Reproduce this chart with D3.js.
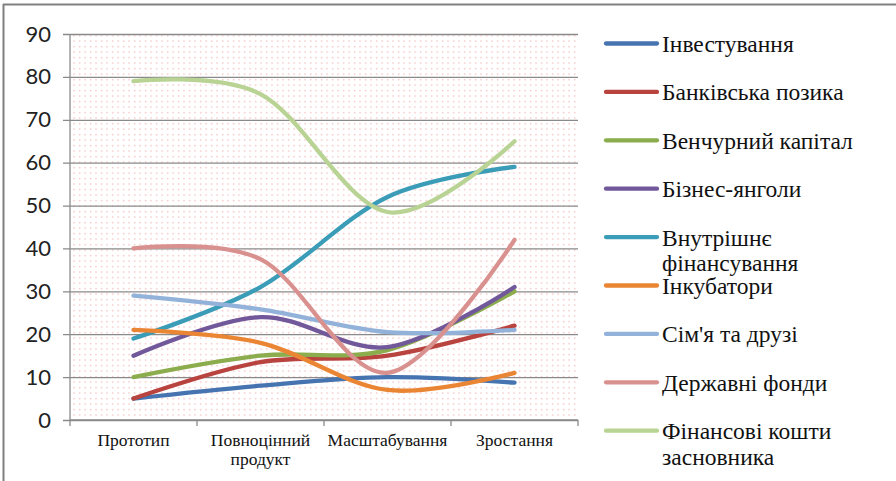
<!DOCTYPE html>
<html>
<head>
<meta charset="utf-8">
<script src="https://cdn.jsdelivr.net/npm/d3@7/dist/d3.min.js"></script>
<style>
  html, body { margin: 0; padding: 0; background: #fff; }
  svg { display: block; }
  .serif { font-family: "Liberation Serif", "DejaVu Serif", "Noto Serif", "Times New Roman", Times, serif; }
</style>
</head>
<body>
<svg id="chart" width="896" height="481"></svg>
<script>
const categories = ["Прототип", "Повноцінний продукт", "Масштабування", "Зростання"];
const seriesNames = ["Інвестування", "Банківська позика", "Венчурний капітал", "Бізнес-янголи",
  "Внутрішнє фінансування", "Інкубатори", "Сім'я та друзі", "Державні фонди", "Фінансові кошти засновника"];
const investing   = [5, 8, 10, 8.7];
const bankLoan    = [5, 13.5, 15, 22];
const venture     = [10, 15, 16.3, 30];
const angels      = [15, 24, 17, 31];
const internal    = [19, 31, 52, 59];
const incubators  = [21, 18, 7, 11];
const family      = [29, 25.8, 20.5, 21];
const stateFunds  = [40, 37.5, 11, 42];
const founders    = [79, 76, 48.5, 65];
const seriesValues = [investing, bankLoan, venture, angels, internal, incubators, family, stateFunds, founders];
const yTicks = [0, 10, 20, 30, 40, 50, 60, 70, 80, 90];
const colors = ["#4674b0", "#b8433f", "#8cad4d", "#71589a", "#3b9cb8", "#ea8533", "#93b2d9", "#d8918f", "#b8d393"];
const legendLines = [["Інвестування"], ["Банківська позика"], ["Венчурний капітал"], ["Бізнес-янголи"],
  ["Внутрішнє", "фінансування"], ["Інкубатори"], ["Сім'я та друзі"], ["Державні фонди"], ["Фінансові кошти", "засновника"]];
const xLabelLines = [["Прототип"], ["Повноцінний", "продукт"], ["Масштабування"], ["Зростання"]];

const svg = d3.select("#chart");
const L = 70, R = 578, T = 34, B = 420;

const x = d3.scaleBand().domain(categories).range([L, R]).padding(0);
const y = d3.scaleLinear().domain([0, 90]).range([B, T]);

// frame
svg.append("line").attr("x1", 3.5).attr("x2", 3.5).attr("y1", 4).attr("y2", 481)
  .attr("stroke", "#808080").attr("stroke-width", 2);
svg.append("line").attr("x1", 3).attr("x2", 896).attr("y1", 4.5).attr("y2", 4.5)
  .attr("stroke", "#808080").attr("stroke-width", 2);

// dotted background pattern
const defs = svg.append("defs");
const pat = defs.append("pattern").attr("id", "dots").attr("patternUnits", "userSpaceOnUse")
  .attr("width", 5.5).attr("height", 5.5);
pat.append("rect").attr("width", 5.5).attr("height", 5.5).attr("fill", "#fff");
pat.append("rect").attr("x", 2).attr("y", 2).attr("width", 1.2).attr("height", 1.2).attr("fill", "#f0a8a8");
svg.append("rect").attr("x", L).attr("y", T).attr("width", R - L).attr("height", B - T).attr("fill", "url(#dots)");

// gridlines + y axis
const yAxis = d3.axisLeft(y).tickValues(yTicks).tickSize(-(R - L + 7)).tickPadding(12).tickFormat(d3.format("d"));
const gy = svg.append("g").attr("transform", `translate(${L - 7},0)`).call(yAxis);
gy.select(".domain").remove();
gy.selectAll(".tick line").attr("stroke", "#8a8a8a").attr("stroke-width", 1.3);
gy.selectAll(".tick text").attr("font-family", "Lato, 'Open Sans', sans-serif").attr("font-size", 22).attr("fill", "#222");
svg.append("line").attr("x1", L).attr("x2", L).attr("y1", T).attr("y2", B).attr("stroke", "#8a8a8a").attr("stroke-width", 1.3);

// x axis
const xTickPos = categories.map(c => x(c)).concat([R]);
const gx = svg.append("g");
gx.append("line").attr("x1", L).attr("x2", R).attr("y1", B).attr("y2", B).attr("stroke", "#8a8a8a").attr("stroke-width", 1.3);
gx.selectAll(".xt").data(xTickPos).join("line").attr("class", "xt")
  .attr("x1", d => d).attr("x2", d => d).attr("y1", B).attr("y2", B + 6)
  .attr("stroke", "#8a8a8a").attr("stroke-width", 1.3);
gx.selectAll(".xl").data(categories).join("text").attr("class", "xl serif")
  .attr("x", d => x(d) + x.bandwidth() / 2).attr("y", 446)
  .attr("text-anchor", "middle")
  .attr("font-size", 17.5).attr("fill", "#111")
  .each(function(d, i) {
    const t = d3.select(this);
    xLabelLines[i].forEach((ln, j) => {
      t.append("tspan").attr("x", x(d) + x.bandwidth() / 2).attr("dy", j === 0 ? 0 : 19).text(ln);
    });
  });

// lines
const line = d3.line()
  .x((d, i) => x(categories[i]) + x.bandwidth() / 2)
  .y(d => y(d))
  .curve(d3.curveCardinal.tension(0));
svg.append("g").selectAll("path").data(seriesValues).join("path")
  .attr("d", d => line(d)).attr("fill", "none")
  .attr("stroke", (d, i) => colors[i]).attr("stroke-width", 4.3).attr("stroke-linecap", "round");

// legend
const lg = svg.append("g");
const legY0 = 43.5, legStep = 48.4;
seriesNames.forEach((name, i) => {
  const yy = legY0 + i * legStep;
  lg.append("line").attr("x1", 606).attr("x2", 657).attr("y1", yy).attr("y2", yy)
    .attr("stroke", colors[i]).attr("stroke-width", 4.3).attr("stroke-linecap", "round");
  const t = lg.append("text").attr("class", "serif").attr("x", 662).attr("y", yy + 8.5)
    .attr("font-size", 23.5).attr("fill", "#111");
  legendLines[i].forEach((ln, j) => {
    t.append("tspan").attr("x", 662).attr("dy", j === 0 ? 0 : 25.5).text(ln);
  });
});
</script>
</body>
</html>
